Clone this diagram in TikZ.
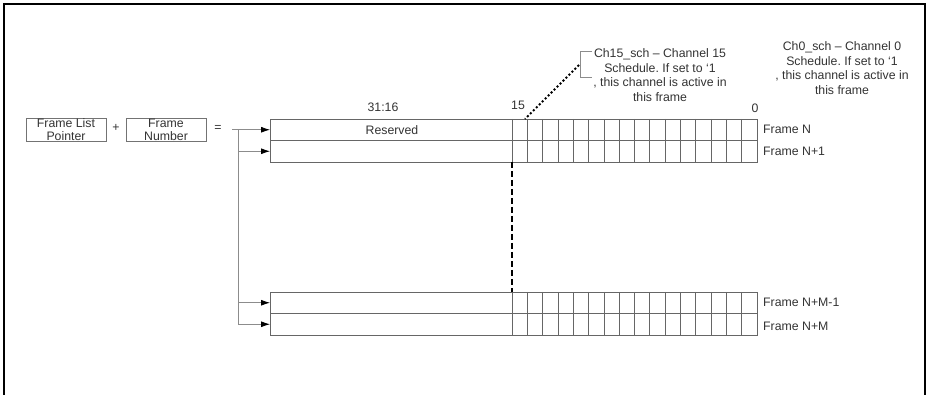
\documentclass[tikz,border=0pt]{standalone}
\usepackage{fontspec}
\setmainfont{Liberation Sans}
\usetikzlibrary{positioning,arrows.meta}
\usepackage{xcolor}
\frenchspacing

\tikzset{
  txt/.style={text=black!80, font=\fontsize{12.3}{14.5}\selectfont, inner sep=0pt},
  ptrbox/.style={txt, draw=black!55, line width=0.8pt, minimum width=80pt, minimum height=23pt, align=center, font=\fontsize{12.3}{13}\selectfont},
  framerow/.style={draw=black!60, line width=0.8pt, minimum width=487pt, minimum height=21.5pt, inner sep=0pt, outer sep=0pt},
  link/.style={draw=black!45, line width=0.8pt},
  arr/.style={link, -{Latex[length=9pt,width=6pt,black]}},
}

\begin{document}
\begin{tikzpicture}[x=1pt, y=-1pt]
    \useasboundingbox (0,0) rectangle (927,395);
    \draw[line width=1.5pt] (4,395) -- (4,4) -- (925,4) -- (925,395);

    % pointer sum
    \node[ptrbox] (ptr) at (66,129.5) {Frame List\\Pointer};
    \node[txt] (plus) at (116,128) {+};
    \node[ptrbox] (fnum) at (166,129.5) {Frame\\Number};
    \node[txt] (eq) at (218,128) {=};

    % frame list rows
    \node[framerow, anchor=north west] (r1) at (270,119) {};
    \node[framerow, below=0pt of r1] (r2) {};
    \node[framerow, anchor=north west] (r3) at (270,292) {};
    \node[framerow, below=0pt of r3] (r4) {};
    \coordinate (resx) at (392,0);
    \node[txt] (res) at (r1.center -| resx) {Reserved};
    \foreach \r in {r1,r2,r3,r4}
        \foreach \i in {0,...,15}
            \draw[draw=black!60, line width=0.7pt] ([xshift=242pt+\i*15.3125pt]\r.north west) -- ([xshift=242pt+\i*15.3125pt]\r.south west);

    % row labels
    \node[txt, right=6pt of r1] (fN) {Frame N};
    \node[txt, right=6pt of r2] (fN1) {Frame N+1};
    \node[txt, right=6pt of r3] (fNM1) {Frame N+M-1};
    \node[txt, right=6pt of r4, yshift=-2pt] (fNM) {Frame N+M};

    % bit labels
    \node[txt] (hi) at (383,107) {31:16};
    \node[txt] (b15) at (518,105) {15};
    \node[txt] (b0) at (755,108) {0};

    % channel notes
    \node[txt, align=center] (ch15) at (660,75) {Ch15\_sch -- Channel 15\\Schedule. If set to ‘1\\, this channel is active in\\this frame};
    \node[txt, align=center] (ch0) at (842,68) {Ch0\_sch -- Channel 0\\Schedule. If set to ‘1\\, this channel is active in\\this frame};
    \coordinate (brk) at (579,65);
    \draw[link] (592,51) -- (580,51) -- (580,77) -- (592,77);
    \draw[line width=2pt, dash pattern=on 2pt off 2.2pt] (brk) -- ([xshift=7pt]r1.north -| b15);

    % continuation
    \draw[line width=2.2pt, dash pattern=on 6pt off 3pt] ([xshift=242pt]r2.south west) -- ([xshift=242pt]r3.north west);

    % pointer arrows
    \coordinate (src) at (232,0);
    \coordinate (trunk) at (238,0);
    \draw[arr] (src |- r1.west) -- (r1.west);
    \draw[link] (trunk |- r1.west) -- (trunk |- r4.west);
    \foreach \r in {r2,r3,r4}
        \draw[arr] (trunk |- \r.west) -- (\r.west);
\end{tikzpicture}
\end{document}
